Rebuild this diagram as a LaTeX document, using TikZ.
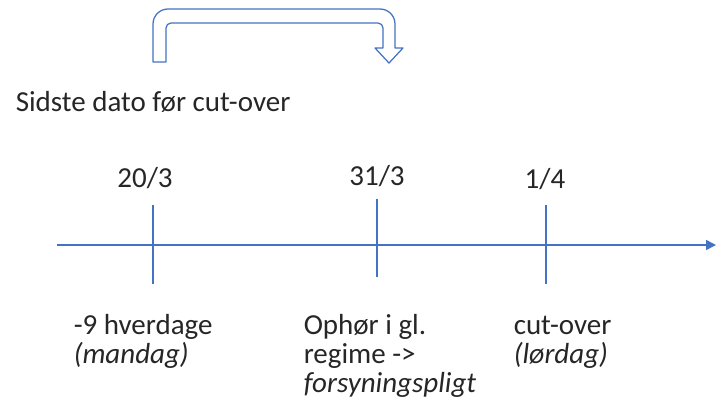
\documentclass[tikz,border=0pt]{standalone}
\usepackage{fontspec}
\setmainfont{Carlito}
\usetikzlibrary{arrows.meta}
\definecolor{axisblue}{RGB}{68,114,196}
\definecolor{textgrey}{RGB}{38,38,38}

\begin{document}
\begin{tikzpicture}[x=0.02cm, y=-0.02cm, line width=0.03cm,
                    every edge/.style={draw=axisblue},
                    main node/.style={inner sep=0pt, text=textgrey, font=\fontsize{16.5}{16.5}\selectfont},
                    date node/.style={main node, anchor=base},
                    note node/.style={main node, anchor=base west, align=left}]
  \useasboundingbox (0,0) rectangle (716,409);

  % the time line
  \coordinate (1) at (57,245);
  \coordinate (2) at (716,245);
  \coordinate (3) at (153,205);
  \coordinate (4) at (153,284);
  \coordinate (5) at (377,199);
  \coordinate (6) at (377,277);
  \coordinate (7) at (546,205);
  \coordinate (8) at (546,284);

  \node[main node, anchor=base west] (9) at (15,111) {Sidste dato før cut-over};
  \node[date node] (10) at (145,187) {20/3};
  \node[date node] (11) at (377,185) {31/3};
  \node[date node] (12) at (545,188) {1/4};
  % base of a multi-line node is its last line
  \node[note node] (13) at (73,363) {-9 hverdage\\\textit{(mandag)}};
  \node[note node] (14) at (303,392) {Ophør i gl.\\regime ->\\\textit{forsyningspligt}};
  \node[note node] (15) at (513,363) {cut-over\\\textit{(lørdag)}};

\path
      (1) edge [-{Triangle[length=0.2cm, width=0.2cm]}] (2)
      (3) edge (4)
      (5) edge (6)
      (7) edge (8)
   ;

  % hollow u-turn arrow
  \draw[axisblue, line width=0.025cm, line join=round]
    (153,62) [rounded corners=0.3cm] -- (153,9) -- (395,9)
    [sharp corners] -- (395,48) -- (403,48) -- (389,63) -- (375,48) -- (383,48)
    [rounded corners=0.1cm] -- (383,23) -- (166,23)
    [sharp corners] -- (166,62) -- cycle;

\end{tikzpicture}
\end{document}
